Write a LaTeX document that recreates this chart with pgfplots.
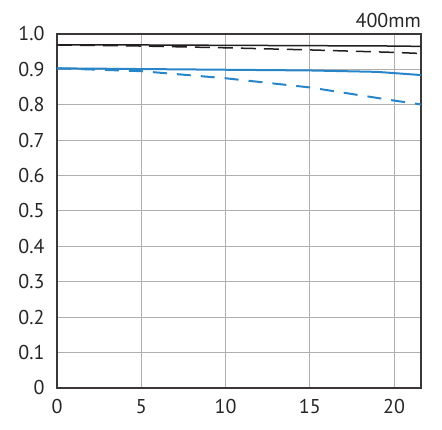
\documentclass[border=0pt]{standalone}
\usepackage{fontspec}
\setmainfont{PT Sans}
\usepackage{pgfplots}
\pgfplotsset{compat=1.18}
\definecolor{mtfblue}{RGB}{40,134,200}
\definecolor{mtfblack}{RGB}{35,30,30}
\definecolor{framec}{RGB}{60,55,55}
\definecolor{gridc}{RGB}{175,175,175}
\begin{document}
\begin{tikzpicture}
\useasboundingbox (-57pt,-42pt) rectangle (385pt,388pt);
\begin{axis}[
  scale only axis,
  width=364pt, height=354pt,
  xmin=0, xmax=21.6, ymin=0, ymax=1.0,
  xtick={0,5,10,15,20},
  ytick={0,0.1,0.2,0.3,0.4,0.5,0.6,0.7,0.8,0.9,1.0},
  yticklabels={0,0.1,0.2,0.3,0.4,0.5,0.6,0.7,0.8,0.9,1.0},
  grid=major,
  major grid style={gridc, line width=1pt},
  axis line style={framec, line width=1.6pt},
  tick style={draw=none},
  ticklabel style={font=\fontsize{20}{22}\selectfont, text=black!85},
  /pgf/number format/assume math mode=true,
  xticklabel style={yshift=-8pt},
  yticklabel style={xshift=-9pt},
  clip=true,
]
\addplot[mtfblack, line width=1.5pt] coordinates {(0,0.969) (5,0.969) (10,0.968) (15,0.967) (20,0.966) (21.6,0.965)};
\addplot[mtfblack, line width=1.5pt, dash pattern=on 15pt off 8pt] coordinates {(0,0.969) (5,0.966) (10,0.961) (15,0.955) (20,0.948) (21.6,0.945)};
\addplot[mtfblue, line width=2pt] coordinates {(0,0.903) (5,0.901) (10,0.899) (15,0.897) (19,0.893) (21.6,0.884)};
\addplot[mtfblue, line width=2pt, dash pattern=on 14pt off 10pt] coordinates {(0,0.903) (5,0.895) (10,0.875) (15,0.849) (20,0.812) (21.6,0.801)};
\end{axis}
\node[anchor=base east, inner sep=0pt, font=\fontsize{20}{22}\selectfont, text=black!85] at (364pt,360pt) {400mm};
\end{tikzpicture}
\end{document}
